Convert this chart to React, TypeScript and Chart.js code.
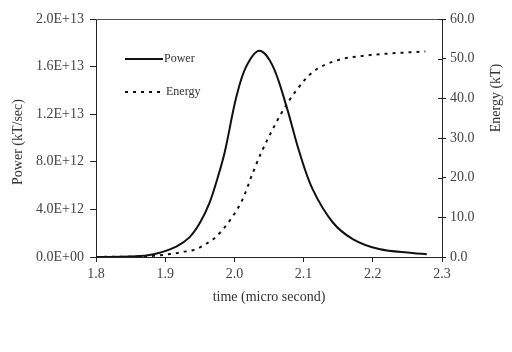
import React, { useEffect, useRef } from "react";
import { Chart, registerables } from "chart.js";

Chart.register(...registerables);

const powerTime = [1.8, 1.85, 1.875, 1.892, 1.916, 1.935, 1.95, 1.964, 1.976, 1.986, 2.003, 2.017, 2.036, 2.055, 2.075, 2.094, 2.113, 2.142, 2.171, 2.209, 2.257, 2.278];
const powerValues = [0, 4e10, 1.4e11, 3.6e11, 0.88e12, 1.65e12, 2.85e12, 4.55e12, 6.7e12, 8.8e12, 1.35e13, 1.6e13, 1.734e13, 1.61e13, 1.27e13, 8.8e12, 5.7e12, 2.92e12, 1.51e12, 6.7e11, 3.4e11, 2.3e11];

const energyTime = [1.8, 1.883, 1.907, 1.925, 1.945, 1.959, 1.974, 1.995, 2.012, 2.027, 2.039, 2.053, 2.07, 2.089, 2.113, 2.147, 2.185, 2.233, 2.276];
const energyValues = [0, 0.3, 0.75, 1.26, 2.0, 3.3, 5.2, 9.6, 14.6, 21.4, 26.4, 31.4, 36.9, 41.9, 46.6, 49.5, 50.7, 51.4, 51.8];

const xTicks = [1.8, 1.9, 2.0, 2.1, 2.2, 2.3];
const powerTicks = [0, 4e12, 8e12, 1.2e13, 1.6e13, 2e13];
const energyTicks = [0, 10, 20, 30, 40, 50, 60];

const seriesNames = ["Power", "Energy"];
const xTitle = "time (micro second)";
const yTitle = "Power (kT/sec)";
const y1Title = "Energy (kT)";

const FONT = "'Liberation Serif', 'DejaVu Serif', serif";

function fmtExp(v: number): string {
  if (v === 0) return "0.0E+00";
  const s = v.toExponential(1).toUpperCase();
  const [m, e] = s.split("E");
  const sign = e[0];
  const digits = e.slice(1).padStart(2, "0");
  return `${m}E${sign}${digits}`;
}

const decorPlugin = {
  id: "decor",
  afterDraw(chart: any) {
    const ctx = chart.ctx;
    const { left, right, top } = chart.chartArea;
    ctx.save();
    // top border
    ctx.strokeStyle = "#555";
    ctx.lineWidth = 1;
    ctx.beginPath();
    ctx.moveTo(left, top + 0.5);
    ctx.lineTo(right, top + 0.5);
    ctx.stroke();

    // inner half of right-axis tick marks (cross ticks)
    const y1 = chart.scales.y1;
    ctx.strokeStyle = "#222";
    ctx.beginPath();
    energyTicks.forEach((v) => {
      const py = Math.round(y1.getPixelForValue(v)) + 0.5;
      ctx.moveTo(right - 4, py);
      ctx.lineTo(right, py);
    });
    ctx.stroke();

    // legend
    ctx.strokeStyle = "#111";
    ctx.lineWidth = 2;
    ctx.beginPath();
    ctx.moveTo(125, 59);
    ctx.lineTo(163, 59);
    ctx.stroke();
    ctx.setLineDash([3, 5]);
    ctx.beginPath();
    ctx.moveTo(125, 92);
    ctx.lineTo(165, 92);
    ctx.stroke();
    ctx.setLineDash([]);
    ctx.fillStyle = "#333";
    ctx.font = `12px ${FONT}`;
    ctx.textAlign = "left";
    ctx.textBaseline = "middle";
    ctx.fillText(seriesNames[0], 164, 59);
    ctx.fillText(seriesNames[1], 166, 92);

    // axis titles
    ctx.font = `14px ${FONT}`;
    ctx.fillStyle = "#333";
    ctx.textAlign = "center";
    ctx.fillText(xTitle, (left + right) / 2, 297);

    ctx.save();
    ctx.translate(18, 142);
    ctx.rotate(-Math.PI / 2);
    ctx.fillText(yTitle, 0, 0);
    ctx.restore();

    ctx.save();
    ctx.translate(496, 98);
    ctx.rotate(-Math.PI / 2);
    ctx.fillText(y1Title, 0, 0);
    ctx.restore();

    ctx.restore();
  },
};

export default function App() {
  const ref = useRef<HTMLCanvasElement | null>(null);

  useEffect(() => {
    if (!ref.current) return;
    const chart = new Chart(ref.current, {
      type: "line",
      data: {
        datasets: [
          {
            label: seriesNames[0],
            data: powerTime.map((t, i) => ({ x: t, y: powerValues[i] })),
            borderColor: "#111",
            borderWidth: 2,
            pointRadius: 0,
            tension: 0.35,
            yAxisID: "y",
            fill: false,
          },
          {
            label: seriesNames[1],
            data: energyTime.map((t, i) => ({ x: t, y: energyValues[i] })),
            borderColor: "#111",
            borderWidth: 2,
            borderDash: [3, 5],
            pointRadius: 0,
            cubicInterpolationMode: "monotone",
            yAxisID: "y1",
            fill: false,
          },
        ],
      },
      options: {
        animation: false,
        responsive: false,
        maintainAspectRatio: false,
        layout: { padding: { top: 19, left: 0, right: 0, bottom: 0 } },
        plugins: {
          legend: { display: false },
          tooltip: { enabled: false },
        },
        scales: {
          x: {
            type: "linear",
            min: 1.8,
            max: 2.3,
            afterBuildTicks: (s: any) => {
              s.ticks = xTicks.map((v) => ({ value: v }));
            },
            afterFit: (s: any) => {
              s.height = 95;
            },
            grid: { drawOnChartArea: false, drawTicks: true, tickLength: 5, color: "#222" },
            border: { display: true, color: "#222", width: 1 },
            ticks: {
              color: "#444",
              font: { family: FONT, size: 14 },
              padding: 4,
              maxRotation: 0,
              callback: (v: any) => Number(v).toFixed(1),
            },
          },
          y: {
            type: "linear",
            position: "left",
            min: 0,
            max: 2e13,
            afterBuildTicks: (s: any) => {
              s.ticks = powerTicks.map((v) => ({ value: v }));
            },
            afterFit: (s: any) => {
              s.width = 96;
            },
            grid: { drawOnChartArea: false, drawTicks: true, tickLength: 6, color: "#222" },
            border: { display: true, color: "#222", width: 1 },
            ticks: {
              color: "#444",
              font: { family: FONT, size: 14 },
              padding: 6,
              callback: (v: any) => fmtExp(Number(v)),
            },
          },
          y1: {
            type: "linear",
            position: "right",
            min: 0,
            max: 60,
            afterBuildTicks: (s: any) => {
              s.ticks = energyTicks.map((v) => ({ value: v }));
            },
            afterFit: (s: any) => {
              s.width = 70;
            },
            grid: { drawOnChartArea: false, drawTicks: true, tickLength: 4, color: "#222" },
            border: { display: true, color: "#222", width: 1 },
            ticks: {
              color: "#444",
              font: { family: FONT, size: 14 },
              padding: 4,
              callback: (v: any) => Number(v).toFixed(1),
            },
          },
        },
      },
      plugins: [decorPlugin],
    } as any);
    return () => chart.destroy();
  }, []);

  return (
    <div style={{ position: "absolute", left: 0, top: 0, width: 512, height: 352, background: "#fff" }}>
      <canvas ref={ref} width={512} height={352} style={{ width: 512, height: 352 }} />
    </div>
  );
}
